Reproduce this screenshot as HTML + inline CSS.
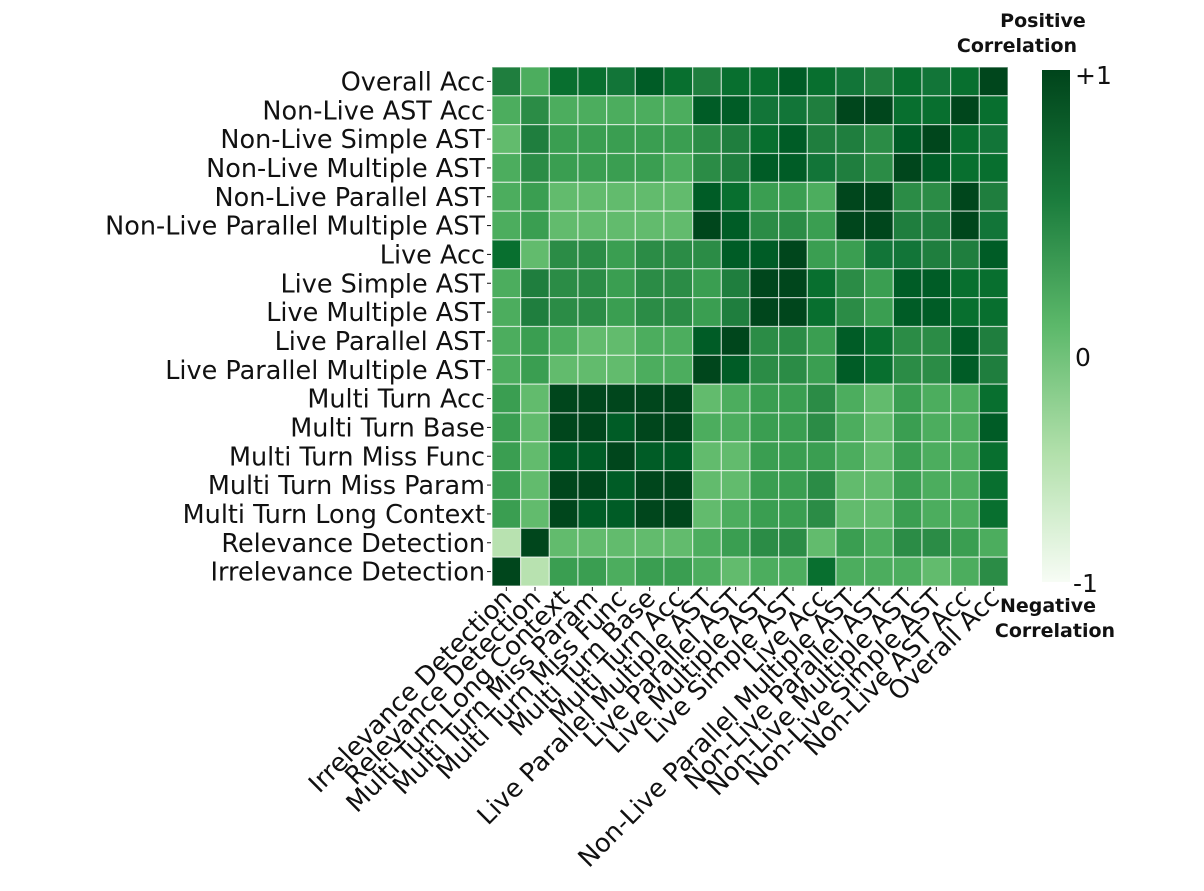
<!DOCTYPE html>
<html><head><meta charset="utf-8"><style>body{margin:0;background:#fff}</style></head>
<body>
<svg id="s" width="1204" height="886" xmlns="http://www.w3.org/2000/svg" font-family="DejaVu Sans, Liberation Sans, sans-serif">
<defs><linearGradient id="cb" x1="0" y1="0" x2="0" y2="1">
<stop offset="0" stop-color="#00441b"/><stop offset="0.25" stop-color="#1a7b3c"/><stop offset="0.5" stop-color="#5cb86a"/><stop offset="0.75" stop-color="#b2e0ab"/><stop offset="1" stop-color="#f7fcf5"/></linearGradient></defs>
<g id="cells"></g>
<rect x="1042" y="70" width="28" height="512" fill="url(#cb)"/>
<g font-size="25" fill="#111">
<text x="1075" y="84">+1</text><text x="1075" y="366">0</text><text x="1073" y="592">-1</text></g>
<g font-size="19" font-weight="bold" text-anchor="middle" fill="#111">
<text x="1043" y="27">Positive</text><text x="1017" y="52">Correlation</text>
<text x="1048" y="612">Negative</text><text x="1055" y="637">Correlation</text></g>
<g id="lab"></g>
</svg>
<script>
var L=["Overall Acc","Non-Live AST Acc","Non-Live Simple AST","Non-Live Multiple AST","Non-Live Parallel AST","Non-Live Parallel Multiple AST","Live Acc","Live Simple AST","Live Multiple AST","Live Parallel AST","Live Parallel Multiple AST","Multi Turn Acc","Multi Turn Base","Multi Turn Miss Func","Multi Turn Miss Param","Multi Turn Long Context","Relevance Detection","Irrelevance Detection"];
var M=[
"527768757787657679",
"242222288665997797",
"153333345785548976",
"243333245886549877",
"231111187332994495",
"231111198443995596",
"714434448893366558",
"254434435997438877",
"254434435997438877",
"232112289443874485",
"231112298443874485",
"319999912334213227",
"319989922334213228",
"318898811333213227",
"319989911334113227",
"319889912334113227",
"091111123441324432",
"903323321227222124"];
var P={a:"#b8e2b0",0:"#b8e2b0",1:"#62bb6d",2:"#4cad5e",3:"#3a9e51",4:"#2b8c46",5:"#1f7e3e",6:"#127538",7:"#086f2f",8:"#005c26",9:"#00461c"};
var x0=492,y0=67,cw=516/18,ch=519/18,h="";
for(var i=0;i<18;i++)for(var j=0;j<18;j++){h+='<rect x="'+(x0+j*cw)+'" y="'+(y0+i*ch)+'" width="'+cw+'" height="'+ch+'" fill="'+P[M[i][j]]+'" stroke="#fff" stroke-opacity="0.6" stroke-width="1.2"/>';}
document.getElementById("cells").innerHTML=h;
var t="";
for(var i=0;i<18;i++){var y=y0+(i+0.5)*ch;t+='<text x="485" y="'+(y+9)+'" font-size="25.5" text-anchor="end" fill="#111">'+L[i]+'</text><line x1="487" x2="491" y1="'+y+'" y2="'+y+'" stroke="#111"/>';}
for(var j=0;j<18;j++){var x=x0+(j+0.5)*cw;var n=L[17-j];t+='<line x1="'+x+'" x2="'+x+'" y1="587" y2="591" stroke="#111"/><text font-size="25.5" text-anchor="end" fill="#111" transform="translate('+(x+7)+',600) rotate(-45)">'+n+'</text>';}
document.getElementById("lab").innerHTML=t;
</script>
</body></html>
